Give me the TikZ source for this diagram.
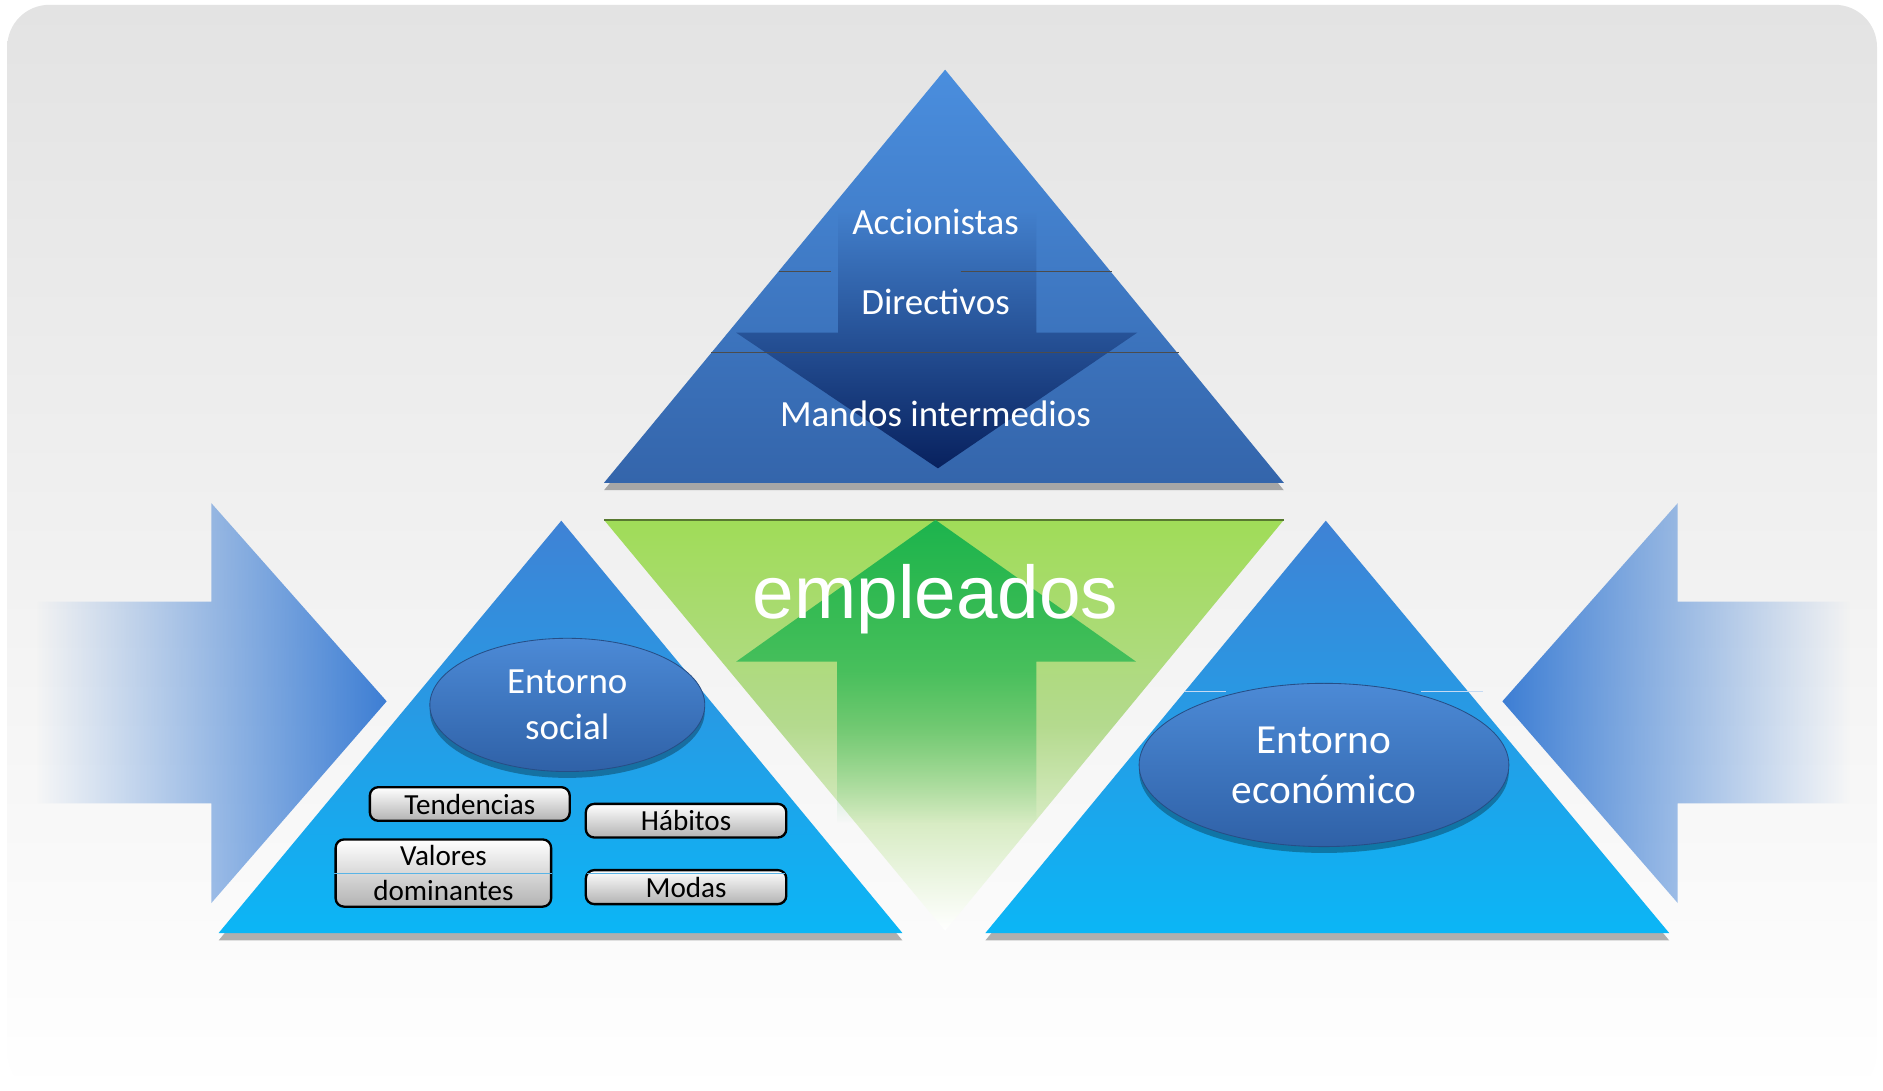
\documentclass[tikz,border=0pt]{standalone}
\usepackage{fontspec}
\setmainfont{Carlito}
\newfontfamily\arialfont{Liberation Sans}
\usetikzlibrary{shapes.geometric,shadows,fadings}

\definecolor{bgtop}{HTML}{E3E3E3}
\definecolor{pyrtop}{HTML}{4A8EDE}
\definecolor{pyrbot}{HTML}{3465AB}
\definecolor{navybot}{HTML}{08215E}
\definecolor{sidetop}{HTML}{3F82D5}
\definecolor{sidebot}{HTML}{0BB6F6}
\definecolor{lime}{HTML}{A0DC58}
\definecolor{limemid}{HTML}{B4DA8E}
\definecolor{leaf}{HTML}{1DB44E}
\definecolor{ovaltop}{HTML}{4C8AD6}
\definecolor{ovalbot}{HTML}{2F61A7}
\definecolor{pushblue}{HTML}{3D7ED4}
\definecolor{glint}{HTML}{5AB4E6}

\tikzfading[name=pushright, left color=transparent!100, right color=transparent!0]
\tikzfading[name=pushleft, left color=transparent!0, right color=transparent!100]
\tikzfading[name=leaffade, top color=transparent!0, bottom color=transparent!100, middle color=transparent!30]

\tikzset{
	layer/.style={text=white, font=\fontsize{17.5}{20}\selectfont, anchor=base, inner sep=0pt},
	oval/.style={ellipse, inner sep=0pt, text=white, align=center, top color=ovaltop, bottom color=ovalbot,
		draw=ovalbot!80!black, line width=0.4pt, drop shadow={shadow xshift=0pt, shadow yshift=-3pt, opacity=0.3, fill=black}},
	tagbox/.style={draw=black, line width=1.1pt, rounded corners=4pt, inner sep=0pt, top color=white, bottom color=black!30,
		font=\fontsize{13.8}{16.3}\selectfont, align=center, minimum width=3.34cm, minimum height=0.56cm},
	sidetri/.style={top color=sidetop, bottom color=sidebot, drop shadow={shadow xshift=0pt, shadow yshift=-3.5pt, opacity=0.3, fill=black}},
	seam/.style={black!70, line width=0.7pt},
}

\begin{document}
\begin{tikzpicture}[x=0.02cm, y=-0.02cm]
	%%%%% START %%%%%
	\useasboundingbox (0,0) rectangle (1568,908);
	\shade[top color=bgtop, bottom color=white, rounded corners=20pt] (6,4) rectangle (1563,912);
	
	% side arrows
	\fill[pushblue, path fading=pushright] (30,501) -- (176,501) -- (176,419) -- (322,584) -- (176,752) -- (176,669) -- (30,669) -- cycle;
	\fill[pushblue, path fading=pushleft] (1540,501) -- (1397,501) -- (1397,419) -- (1251,584) -- (1397,752) -- (1397,669) -- (1540,669) -- cycle;
	
	% top pyramid
	\coordinate (apex) at (787,58);
	\coordinate (topleft) at (503,402);
	\coordinate (topright) at (1069,402);
	\shade[top color=pyrtop, bottom color=pyrbot, drop shadow={shadow xshift=0pt, shadow yshift=-3.5pt, opacity=0.3, fill=black}] (apex) -- (topleft) -- (topright) -- cycle;
	\shade[top color=pyrtop!62!pyrbot, bottom color=navybot] (698,178) -- (863,178) -- (863,277) -- (947,277) -- (781,390) -- (613,277) -- (698,277) -- cycle;
	\draw[seam] (648.3,226) -- (692,226);
	\draw[seam] (800,226) -- (925.7,226);
	\draw[seam] (592.4,293.7) -- (981.6,293.7);
	\node[layer] (owners) at (779,195) {Accionistas};
	\node[layer] (board) at (779,262) {Directivos};
	\node[layer] (middle) at (779,355) {Mandos intermedios};
	
	% green triangle
	\coordinate (gleft) at (503,433);
	\coordinate (gright) at (1069,433);
	\coordinate (gtip) at (787,775);
	\shade[top color=lime, bottom color=white, middle color=limemid] (gleft) -- (gright) -- (gtip) -- cycle;
	\draw[lime!55!black, line width=0.8pt] (gleft) -- (gright);
	\fill[leaf, path fading=leaffade] (779,433) -- (946,551) -- (863,551) -- (863,685) -- (697,685) -- (697,551) -- (613,551) -- cycle;
	\node[text=white, font=\arialfont\fontsize{35.4}{40}\selectfont, anchor=base, inner sep=0pt] (staff) at (779,515) {empleados};
	
	% left triangle
	\coordinate (lapex) at (467.4,433.6);
	\coordinate (lleft) at (182,777);
	\coordinate (lright) at (751.5,777);
	\shade[sidetri] (lapex) -- (lleft) -- (lright) -- cycle;
	\node[oval, minimum width=4.58cm, minimum height=2.22cm, font=\fontsize{17.5}{21.6}\selectfont] (social) at (472.4,587) {Entorno\\social};
	\node[tagbox, minimum width=3.33cm] (trends) at (391.2,669.5) {Tendencias};
	\node[tagbox] (habits) at (571.3,683.4) {Hábitos};
	\node[tagbox, minimum width=3.59cm, minimum height=1.12cm] (values) at (369.2,727) {Valores\\dominantes};
	\node[tagbox, minimum height=0.566cm] (fashion) at (571.3,738.7) {Modas};
	\draw[glint, line width=0.4pt] (values.west) -- (values.east);
	\draw[glint, line width=0.4pt] ([xshift=1pt]fashion.north west |- values.center) -- ([xshift=-1pt]fashion.north east |- values.center);
	
	% right triangle
	\coordinate (rapex) at (1104,433.6);
	\coordinate (rleft) at (820.5,777);
	\coordinate (rright) at (1390,777);
	\shade[sidetri] (rapex) -- (rleft) -- (rright) -- cycle;
	\draw[white!70!sidetop, line width=0.4pt] (987,576) -- (1021,576);
	\draw[white!70!sidetop, line width=0.4pt] (1183,576) -- (1235,576);
	\node[oval, minimum width=6.16cm, minimum height=2.72cm, font=\fontsize{19.6}{23.7}\selectfont] (economy) at (1102.5,637) {Entorno\\económico};
	%%%%% END %%%%%
\end{tikzpicture}
\end{document}
